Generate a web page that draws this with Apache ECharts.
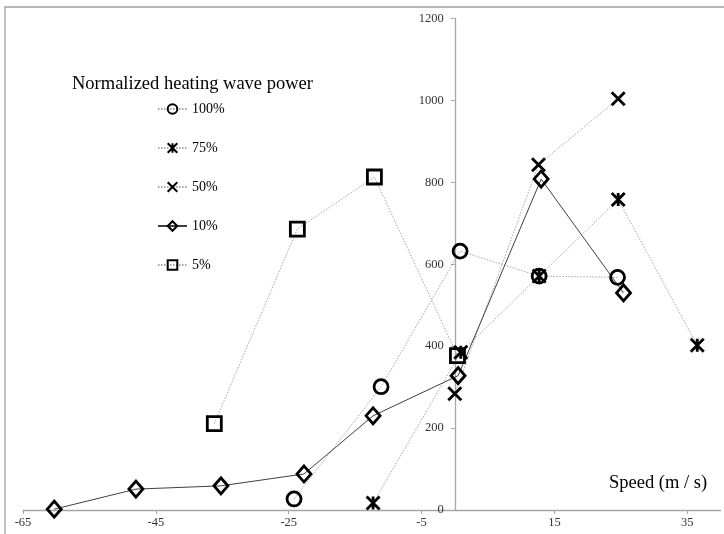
<!DOCTYPE html>
<html>
<head>
<meta charset="utf-8">
<script src="https://cdn.jsdelivr.net/npm/echarts@6/dist/echarts.min.js"></script>
<style>html,body{margin:0;padding:0;background:#fff}#c{width:724px;height:534px}</style>
</head>
<body>
<div id="c"></div>
<script>
var seriesNames = ['100%', '75%', '50%', '10%', '5%'];
var p100 = [[-24.2, 27], [-11.1, 301], [0.8, 632], [12.7, 571], [24.5, 568]];
var p75 = [[-12.3, 17], [0.9, 385], [12.7, 571], [24.6, 758], [36.5, 402]];
var p50 = [[0.0, 284], [12.6, 843], [24.6, 1004]];
var p10 = [[-60.3, 2], [-48.0, 51], [-35.2, 59], [-22.7, 88], [-12.3, 230], [0.5, 328], [13.0, 808], [25.4, 530]];
var p5 = [[-36.2, 211], [-23.7, 686], [-12.1, 813], [0.4, 377]];
var xTicks = [-65, -45, -25, -5, 15, 35];
var xMin = -65, xMax = 40;
var legendTitle = 'Normalized heating wave power';
var xName = 'Speed (m / s)';

var serif = '"Liberation Serif", "DejaVu Serif", serif';
var dotted = {color: '#a6a6a6', width: 1, type: [1.5, 1.5]};
var solid = {color: '#404040', width: 1, type: 'solid'};
var mk = {color: 'rgba(255,255,255,0)', borderColor: '#000', borderWidth: 2.8};

var asterisk = 'path://M0,0L10,10M10,0L0,10M5,0L5,10';
var cross = 'path://M0,0L10,10M10,0L0,10';

var W = 724, gridLeft = 23, gridRight = 3.5;
var plotW = W - gridLeft - gridRight;
// y axis sits at x = 0 of the value scale
var yOffset = -plotW * (0 - xMin) / (xMax - xMin);

function mkSeries(name, data, symbol, size, line) {
  return {
    name: name, type: 'line', data: data, symbol: symbol, symbolSize: size,
    showAllSymbol: true, lineStyle: line, itemStyle: mk, z: 3,
    emphasis: {disabled: true}, animation: false
  };
}

var chart = echarts.init(document.getElementById('c'), null, {renderer: 'canvas'});
chart.setOption({
  animation: false,
  backgroundColor: '#fff',
  grid: {left: gridLeft, right: gridRight, top: 18.5, bottom: 24, containLabel: false, outerBoundsMode: 'none'},
  title: {
    text: legendTitle, left: 72, top: 75, padding: 0,
    textStyle: {fontFamily: serif, fontSize: 18.5, fontWeight: 'normal', color: '#000'}
  },
  legend: {
    orient: 'vertical', left: 157, top: 102, padding: 0, itemGap: 25, itemWidth: 29, itemHeight: 12,
    data: seriesNames,
    textStyle: {fontFamily: serif, fontSize: 14, color: '#000'},
    inactiveColor: '#000'
  },
  graphic: [
    {type: 'rect', shape: {x: 5, y: 7, width: 800, height: 600}, style: {fill: 'none', stroke: '#a0a0a0', lineWidth: 1.3}, silent: true, z: 0},
    {type: 'text', left: 609, top: 474, style: {text: xName, font: '18.5px ' + serif, fill: '#000'}}
  ],
  xAxis: {
    type: 'value', min: xMin, max: xMax, interval: 20,
    splitLine: {show: false},
    axisLine: {onZero: false, lineStyle: {color: '#a6a6a6', width: 1.3}},
    axisTick: {show: true, length: 4, customValues: xTicks, lineStyle: {color: '#a6a6a6'}},
    axisLabel: {customValues: xTicks, fontFamily: serif, fontSize: 12.5, color: '#333', margin: 6}
  },
  yAxis: {
    type: 'value', min: 0, max: 1200, interval: 200,
    position: 'left', offset: yOffset,
    splitLine: {show: false},
    axisLine: {show: true, onZero: false, lineStyle: {color: '#a6a6a6', width: 1.3}},
    axisTick: {show: true, length: 4, lineStyle: {color: '#a6a6a6'}},
    axisLabel: {fontFamily: serif, fontSize: 12.5, color: '#333', margin: 11,
      formatter: function (v) { return String(v); }}
  },
  series: [
    mkSeries('100%', p100, 'circle', 14, dotted),
    mkSeries('75%', p75, asterisk, 13, dotted),
    mkSeries('50%', p50, cross, 13, dotted),
    mkSeries('10%', p10, 'diamond', [14, 16], solid),
    mkSeries('5%', p5, 'rect', 14, dotted)
  ]
});
</script>
</body>
</html>
